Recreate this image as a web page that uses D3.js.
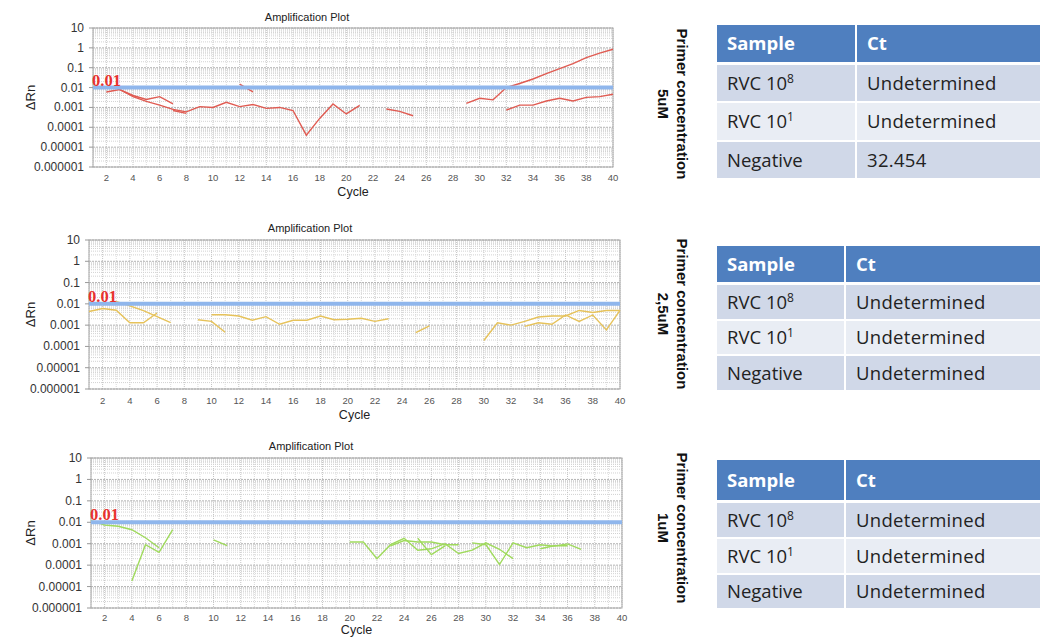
<!DOCTYPE html>
<html><head><meta charset="utf-8">
<title>Amplification plots</title>
<script src="https://d3js.org/d3.v7.min.js"></script>
<style>
body { margin: 0; background: #fff; }
svg { display: block; font-family: Arial, "Liberation Sans", sans-serif; }
.tbl text { font-family: "Open Sans", "Noto Sans", sans-serif; }
</style>
</head>
<body>
<svg id="chart" width="1040" height="637"></svg>
<script>
// ---- data ----
const yTicks = [10, 1, 0.1, 0.01, 0.001, 0.0001, 0.00001, 0.000001];
const yTickLabels = ["10", "1", "0.1", "0.01", "0.001", "0.0001", "0.00001", "0.000001"];
const xTicks = d3.range(2, 41, 2);
const threshold = 0.01;

// each curve: first cycle + ΔRn per cycle
const curves5uM = [
  { start: 2, dRn: [0.006, 0.008, 0.004, 0.0025, 0.0035, 0.0015] },
  { start: 3, dRn: [0.008, 0.0035, 0.002, 0.0013, 0.0008, 0.0006, 0.0011, 0.001, 0.0018, 0.0011, 0.0014, 0.0009, 0.001, 0.0007, 0.00004, 0.00028, 0.0015, 0.00047, 0.00126] },
  { start: 7, dRn: [0.0007, 0.0005] },
  { start: 12, dRn: [0.015, 0.006] },
  { start: 23, dRn: [0.00083, 0.00063, 0.00038] },
  { start: 29, dRn: [0.0016, 0.0029, 0.0024, 0.01, 0.016, 0.027, 0.05, 0.089, 0.16, 0.32, 0.54, 0.85] },
  { start: 32, dRn: [0.00074, 0.0013, 0.0013, 0.0021, 0.0029, 0.0021, 0.0032, 0.0035, 0.0046] }
];
const curves25uM = [
  { start: 1, dRn: [0.0044, 0.006, 0.005, 0.0013, 0.0013, 0.0037] },
  { start: 2, dRn: [0.009, 0.013, 0.008, 0.0048, 0.0025, 0.0013] },
  { start: 9, dRn: [0.0018, 0.0015, 0.00046] },
  { start: 10, dRn: [0.0031, 0.0031, 0.0027, 0.0017, 0.0025, 0.0011, 0.0017, 0.0017, 0.0027, 0.0018, 0.0019, 0.0021, 0.0015, 0.002] },
  { start: 25, dRn: [0.00045, 0.00093] },
  { start: 30, dRn: [0.00019, 0.0013, 0.001, 0.0015, 0.0024, 0.0027, 0.0027, 0.0049, 0.0039, 0.0049, 0.0049] },
  { start: 33, dRn: [0.00087, 0.0013, 0.0011, 0.003, 0.0015, 0.003, 0.0006, 0.0049] }
];
const curves1uM = [
  { start: 1, dRn: [0.012, 0.0075, 0.0065, 0.0045, 0.0019, 0.00065] },
  { start: 4, dRn: [0.000018, 0.0009, 0.0004, 0.0045] },
  { start: 10, dRn: [0.0015, 0.00082] },
  { start: 20, dRn: [0.0012, 0.0012, 0.0002, 0.0009, 0.0018, 0.0005, 0.00058, 0.001, 0.00035, 0.0005, 0.0011, 0.00055, 0.0002] },
  { start: 23, dRn: [0.0008, 0.0014, 0.0012, 0.0012, 0.0009, 0.0009] },
  { start: 25, dRn: [0.0018, 0.00031, 0.0008] },
  { start: 29, dRn: [0.0011, 0.0009, 0.000107, 0.0011, 0.00065, 0.0009, 0.00077, 0.00098, 0.00055] },
  { start: 34, dRn: [0.00058, 0.0008, 0.0008] }
];

const tableHeader = ["Sample", "Ct"];
const sampleNames = ["RVC 10", "RVC 10", "Negative"];
const sampleExp = ["8", "1", ""];
const ct5uM = ["Undetermined", "Undetermined", "32.454"];
const ct25uM = ["Undetermined", "Undetermined", "Undetermined"];
const ct1uM = ["Undetermined", "Undetermined", "Undetermined"];
const concLabels = ["5uM", "2,5uM", "1uM"];

// ---- layout ----
const panels = [
  { curves: curves5uM, color: "#e05b52", ct: ct5uM, conc: concLabels[0],
    l: 93, r: 613, t: 28, b: 167, titleX: 307, titleY: 21, cycleY: 196, tickY: 181,
    tblRows: [[25, 62], [65, 101], [103, 140], [142, 178]], tblCol: 855, labCy: 104 },
  { curves: curves25uM, color: "#e6c25a", ct: ct25uM, conc: concLabels[1],
    l: 89, r: 620, t: 240, b: 389, titleX: 310, titleY: 232, cycleY: 419, tickY: 404,
    tblRows: [[246, 282], [285, 319], [321, 354], [356, 390]], tblCol: 844, labCy: 314 },
  { curves: curves1uM, color: "#9fda5c", ct: ct1uM, conc: concLabels[2],
    l: 91, r: 622, t: 458, b: 608, titleX: 311, titleY: 450, cycleY: 634, tickY: 621,
    tblRows: [[460, 500], [503, 537], [539, 573], [575, 608]], tblCol: 844, labCy: 528 }
];

const svg = d3.select("#chart");

// minor log values 2..9 x 10^k
const minorVals = [];
for (let e = -6; e < 1; e++) for (let m = 2; m <= 9; m++) minorVals.push(m * Math.pow(10, e));

panels.forEach(p => {
  const x = d3.scaleLinear().domain([1, 40]).range([p.l, p.r]);
  const y = d3.scaleLog().domain([0.000001, 10]).range([p.b, p.t]);
  const g = svg.append("g");

  // grid
  g.selectAll(".vg").data(d3.range(1, 41)).join("line")
    .attr("x1", d => x(d)).attr("x2", d => x(d)).attr("y1", p.t).attr("y2", p.b)
    .attr("stroke", d => d % 2 === 0 ? "#c4c4c4" : "#dadada").attr("stroke-dasharray", "1,1");
  g.selectAll(".hm").data(minorVals).join("line")
    .attr("x1", p.l).attr("x2", p.r).attr("y1", d => y(d)).attr("y2", d => y(d))
    .attr("stroke", "#d2d2d2").attr("stroke-dasharray", "1,1");
  g.selectAll(".hM").data(yTicks).join("line")
    .attr("x1", p.l).attr("x2", p.r).attr("y1", d => y(d)).attr("y2", d => y(d))
    .attr("stroke", "#b4b4b4").attr("stroke-dasharray", "2,1");

  g.append("rect").attr("x", p.l).attr("y", p.t).attr("width", p.r - p.l).attr("height", p.b - p.t)
    .attr("fill", "none").attr("stroke", "#a8a8a8");

  // y ticks
  g.selectAll(".yt").data(yTicks).join("text")
    .attr("x", p.l - 9).attr("y", d => y(d) + 4).attr("text-anchor", "end")
    .attr("font-size", 12).attr("fill", "#333")
    .text((d, i) => yTickLabels[i]);
  g.selectAll(".ytk").data(yTicks).join("line")
    .attr("x1", p.l - 4).attr("x2", p.l).attr("y1", d => y(d)).attr("y2", d => y(d))
    .attr("stroke", "#999");

  // x ticks
  g.selectAll(".xt").data(xTicks).join("text")
    .attr("x", d => x(d)).attr("y", p.tickY).attr("text-anchor", "middle")
    .attr("font-size", 9.5).attr("fill", "#555").text(d => d);

  g.append("text").attr("x", p.titleX).attr("y", p.titleY).attr("text-anchor", "middle")
    .attr("font-size", 11).attr("fill", "#222").text("Amplification Plot");
  g.append("text").attr("x", (p.l + p.r) / 2).attr("y", p.cycleY).attr("text-anchor", "middle")
    .attr("font-size", 12.5).attr("fill", "#222").text("Cycle");
  g.append("text").attr("transform", `translate(35,${(p.t + p.b) / 2}) rotate(-90)`)
    .attr("text-anchor", "middle").attr("font-size", 13).attr("fill", "#222").text("ΔRn");

  // curves
  const line = d3.line().x(d => x(d[0])).y(d => y(d[1]));
  g.selectAll(".curve").data(p.curves).join("path")
    .attr("d", c => line(c.dRn.map((v, i) => [c.start + i, v])))
    .attr("fill", "none").attr("stroke", p.color).attr("stroke-width", 1.4);

  // threshold
  g.append("line").attr("x1", p.l).attr("x2", p.r).attr("y1", y(threshold)).attr("y2", y(threshold))
    .attr("stroke", "#8fb6ec").attr("stroke-width", 4);
  g.append("text").attr("x", p.l - 1).attr("y", y(threshold) - 2)
    .attr("font-family", "'Liberation Serif', 'DejaVu Serif', serif").attr("font-weight", "bold")
    .attr("font-size", 16.5).attr("fill", "#e8322e").text("0.01");

  // side label
  const lab = svg.append("text").attr("transform", `translate(677,${p.labCy}) rotate(90)`)
    .attr("text-anchor", "middle").attr("font-weight", "bold").attr("font-size", 15).attr("fill", "#111");
  lab.append("tspan").attr("x", 0).attr("y", 0).text("Primer concentration");
  lab.append("tspan").attr("x", 0).attr("y", 19).text(p.conc);

  // table
  const tb = svg.append("g").attr("class", "tbl");
  const rowFill = ["#4f7fbf", "#d0d8e8", "#e9edf4", "#d0d8e8"];
  p.tblRows.forEach((rw, i) => {
    tb.append("rect").attr("x", 717).attr("y", rw[0]).attr("width", p.tblCol - 717).attr("height", rw[1] - rw[0]).attr("fill", rowFill[i]);
    tb.append("rect").attr("x", p.tblCol + 2).attr("y", rw[0]).attr("width", 1040 - p.tblCol).attr("height", rw[1] - rw[0]).attr("fill", rowFill[i]);
    const cy = (rw[0] + rw[1]) / 2 + 6.5;
    if (i === 0) {
      tb.append("text").attr("x", 727).attr("y", cy).attr("font-size", 18.5).attr("font-weight", "bold").attr("fill", "#fff").text(tableHeader[0]);
      tb.append("text").attr("x", p.tblCol + 12).attr("y", cy).attr("font-size", 18.5).attr("font-weight", "bold").attr("fill", "#fff").text(tableHeader[1]);
    } else {
      const t = tb.append("text").attr("x", 727).attr("y", cy).attr("font-size", 18.5).attr("fill", "#222");
      t.append("tspan").text(sampleNames[i - 1]);
      if (sampleExp[i - 1]) t.append("tspan").attr("dy", -7).attr("font-size", 12).text(sampleExp[i - 1]);
      tb.append("text").attr("x", p.tblCol + 12).attr("y", cy).attr("font-size", 18.5).attr("letter-spacing", 0.3).attr("fill", "#222").text(p.ct[i - 1]);
    }
  });
});
</script>
</body>
</html>
